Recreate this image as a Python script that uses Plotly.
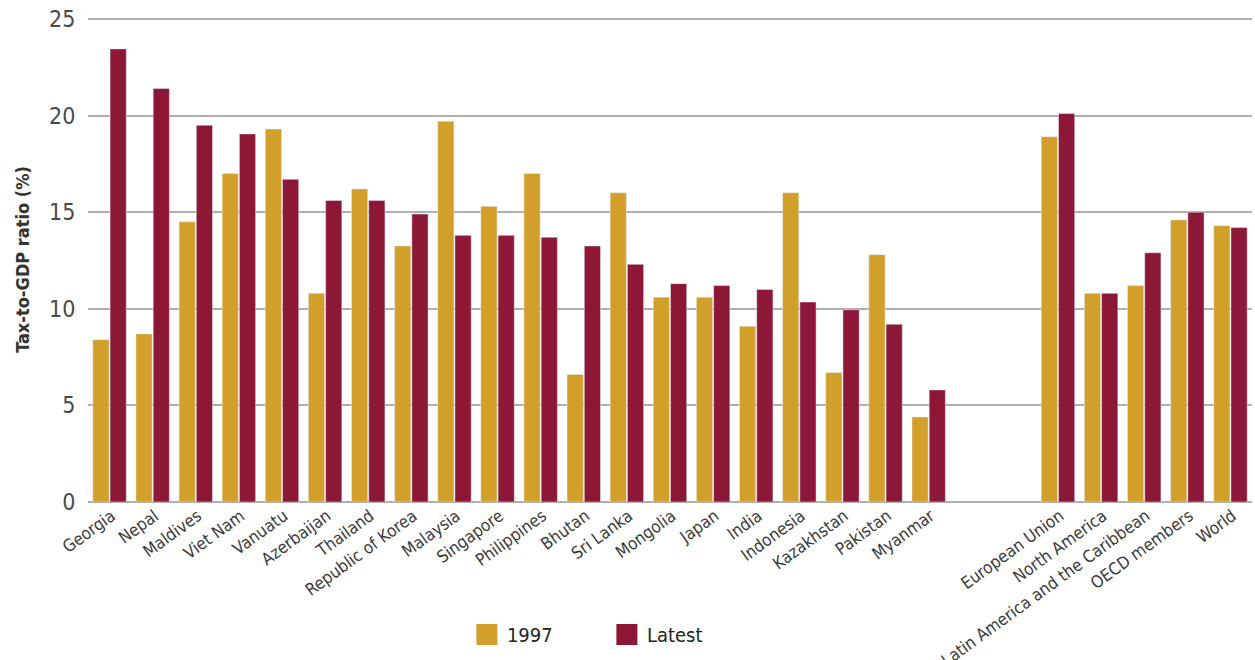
import plotly.graph_objects as go

categories = ["Georgia", "Nepal", "Maldives", "Viet Nam", "Vanuatu", "Azerbaijan", "Thailand",
              "Republic of Korea", "Malaysia", "Singapore", "Philippines", "Bhutan", "Sri Lanka",
              "Mongolia", "Japan", "India", "Indonesia", "Kazakhstan", "Pakistan", "Myanmar",
              " ", "  ",
              "European Union", "North America", "Latin America and the Caribbean",
              "OECD members", "World"]

values_1997 = [8.4, 8.7, 14.5, 17.0, 19.3, 10.8, 16.2, 13.25, 19.7, 15.3, 17.0, 6.6, 16.0,
               10.6, 10.6, 9.1, 16.0, 6.7, 12.8, 4.4,
               None, None,
               18.9, 10.8, 11.2, 14.6, 14.3]

values_latest = [23.45, 21.4, 19.5, 19.05, 16.7, 15.6, 15.6, 14.9, 13.8, 13.8, 13.7, 13.25, 12.3,
                 11.3, 11.2, 11.0, 10.35, 9.95, 9.2, 5.8,
                 None, None,
                 20.1, 10.8, 12.9, 15.0, 14.2]

series_names = ["1997", "Latest"]
y_ticks = [0, 5, 10, 15, 20, 25]

FONT = "DejaVu Sans Condensed, Liberation Sans Narrow, Roboto, sans-serif"
GOLD = "#D19F2A"
MAROON = "#8D1737"
colors = [GOLD, MAROON]

fig = go.Figure()
for name, vals, col in zip(series_names, [values_1997, values_latest], colors):
    fig.add_trace(go.Bar(x=categories, y=vals, name=name, marker_color=col,
                         showlegend=False, legendgroup=name))
# legend-only entries with larger square swatches
for name, col in zip(series_names, colors):
    fig.add_trace(go.Scatter(x=[None], y=[None], mode="markers", name=name, legendgroup=name,
                             marker=dict(symbol="square", size=16, color=col,
                                         line=dict(color=col, width=5))))

fig.update_layout(
    width=1255, height=660,
    margin=dict(l=88, r=3, t=17, b=158),
    paper_bgcolor="white", plot_bgcolor="white",
    barmode="group", bargap=0.2, bargroupgap=0.06,
    font=dict(family=FONT, color="#333333"),
    legend=dict(orientation="h", x=0.3255, xanchor="left", y=-0.273, yanchor="middle",
                font=dict(size=20, color="#222222"), entrywidth=95, entrywidthmode="pixels",
                itemsizing="trace", traceorder="normal"),
    showlegend=True,
)
fig.update_xaxes(type="category", tickangle=-36, tickfont=dict(size=17, color="#3a3a3a"),
                 ticklabelshift=2,
                 showgrid=False, showline=False, ticks="", automargin=False)
fig.update_yaxes(range=[0, 25.1], tickvals=y_ticks,
                 tickfont=dict(size=23, color="#4a4a4a"),
                 showgrid=True, gridcolor="#AFAFAF", gridwidth=1.5,
                 zeroline=True, zerolinecolor="#AFAFAF", zerolinewidth=2,
                 ticks="outside", ticklen=7, tickcolor="rgba(0,0,0,0)",
                 title=dict(text="<b>Tax-to-GDP ratio (%)</b>", font=dict(size=18, color="#333333"),
                            standoff=14),
                 automargin=False)

fig.write_html("out.html", config={"displayModeBar": False},
               post_script="document.body.style.margin='0px';")
